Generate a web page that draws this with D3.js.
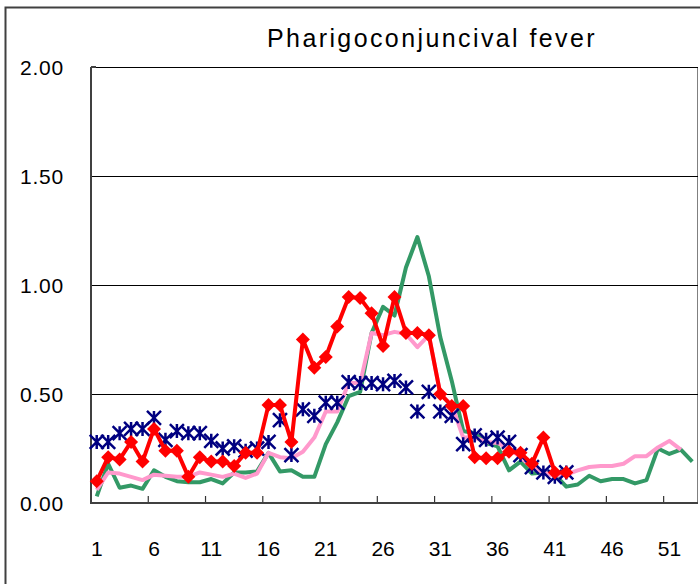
<!DOCTYPE html>
<html>
<head>
<meta charset="utf-8">
<script src="https://cdn.jsdelivr.net/npm/d3@7"></script>
<style>
  body { margin: 0; background: #fff; }
  text { font-family: "Liberation Sans", Arial, sans-serif; fill: #000; }
</style>
</head>
<body>
<div id="chart"></div>
<script>
// Weekly values
const weeks = [1, 2, 3, 4, 5, 6, 7, 8, 9, 10, 11, 12, 13, 14, 15, 16, 17, 18, 19, 20,
  21, 22, 23, 24, 25, 26, 27, 28, 29, 30, 31, 32, 33, 34, 35, 36, 37, 38, 39, 40,
  41, 42, 43, 44, 45, 46, 47, 48, 49, 50, 51, 52, 53];

const greenValues = [0.03, 0.18, 0.07, 0.08, 0.065, 0.15, 0.12, 0.10, 0.095, 0.095,
  0.11, 0.09, 0.14, 0.14, 0.145, 0.23, 0.145, 0.15, 0.12, 0.12,
  0.27, 0.37, 0.49, 0.51, 0.78, 0.90, 0.86, 1.08, 1.22, 1.04,
  0.76, 0.56, 0.33, 0.32, 0.275, 0.26, 0.15, 0.19, 0.135, 0.14,
  0.13, 0.075, 0.085, 0.125, 0.10, 0.11, 0.11, 0.09, 0.105, 0.25,
  0.225, 0.245, 0.19];

const pinkValues = [0.06, 0.14, 0.135, 0.12, 0.105, 0.13, 0.125, 0.12, 0.12, 0.14,
  0.13, 0.12, 0.135, 0.115, 0.135, 0.23, 0.21, 0.205, 0.235, 0.30,
  0.42, 0.42, 0.55, 0.55, 0.78, 0.77, 0.785, 0.775, 0.715, 0.77,
  0.50, 0.45, 0.30, 0.30, 0.28, 0.275, 0.25, 0.21, 0.165, 0.14,
  0.125, 0.13, 0.15, 0.165, 0.17, 0.17, 0.18, 0.215, 0.215, 0.255,
  0.285, 0.245];

const redValues = [0.10, 0.21, 0.20, 0.28, 0.19, 0.34, 0.24, 0.24, 0.12, 0.21,
  0.19, 0.19, 0.17, 0.23, 0.23, 0.45, 0.45, 0.28, 0.75, 0.62,
  0.67, 0.81, 0.945, 0.94, 0.87, 0.72, 0.945, 0.78, 0.78, 0.77,
  0.50, 0.445, 0.445, 0.21, 0.205, 0.205, 0.235, 0.23, 0.18, 0.30,
  0.14, 0.14];

const navyValues = [0.28, 0.28, 0.32, 0.34, 0.34, 0.39, 0.29, 0.33, 0.32, 0.32,
  0.285, 0.25, 0.26, 0.24, 0.25, 0.28, 0.38, 0.22, 0.43, 0.40,
  0.46, 0.46, 0.555, 0.55, 0.55, 0.545, 0.56, 0.53, 0.42, 0.51,
  0.42, 0.40, 0.27, 0.31, 0.29, 0.30, 0.28, 0.22, 0.165, 0.14,
  0.12, 0.14];

const yTicks = [0, 0.5, 1, 1.5, 2];
const xLabels = [1, 6, 11, 16, 21, 26, 31, 36, 41, 46, 51];

// Chart size
const svgWidth = 700, svgHeight = 584;
const plot = { left: 91, right: 698, top: 67, bottom: 503 };

const svg = d3.select("#chart")
  .append("svg")
  .attr("width", svgWidth)
  .attr("height", svgHeight);

// Outer chart border (runs off the picture on the right and bottom)
svg.append("rect")
  .attr("x", 5.5)
  .attr("y", 7.5)
  .attr("width", 800)
  .attr("height", 800)
  .attr("fill", "none")
  .attr("stroke", "#404040")
  .attr("stroke-width", 2);

// Scales
const x = d3.scaleBand()
  .domain(weeks)
  .range([plot.left, plot.right])
  .padding(0);

const y = d3.scaleLinear()
  .domain([0, 2])
  .range([plot.bottom, plot.top]);

const cx = w => x(w) + x.bandwidth() / 2;

// Plot frame on the right
svg.append("line")
  .attr("x1", plot.right - 0.5).attr("x2", plot.right - 0.5)
  .attr("y1", plot.top).attr("y2", plot.bottom)
  .attr("stroke", "#808080");

// Gridlines
svg.selectAll("line.grid")
  .data(yTicks.filter(d => d > 0))
  .join("line")
  .attr("class", "grid")
  .attr("x1", plot.left)
  .attr("x2", plot.right)
  .attr("y1", d => Math.round(y(d)) + 0.5)
  .attr("y2", d => Math.round(y(d)) + 0.5)
  .attr("stroke", "#000")
  .attr("stroke-width", 1.2);

// Y axis labels
svg.selectAll("text.ylab")
  .data(yTicks)
  .join("text")
  .attr("class", "ylab")
  .attr("x", 64)
  .attr("y", d => y(d))
  .attr("dy", "0.36em")
  .attr("text-anchor", "end")
  .attr("font-size", 21)
  .attr("letter-spacing", 0.8)
  .text(d => d3.format(".2f")(d));

// X axis labels under category centres
svg.append("g")
  .attr("transform", `translate(0,${plot.bottom + 45})`)
  .call(d3.axisBottom(x).tickValues(xLabels).tickSize(0).tickPadding(0))
  .call(g => g.select(".domain").remove())
  .call(g => g.selectAll("text")
    .attr("font-size", 21)
    .attr("font-family", "Liberation Sans, Arial, sans-serif")
    .attr("dy", "0.36em")
    .attr("y", 0));

// X tick marks between categories, pointing up
svg.selectAll("line.xtick")
  .data(xLabels.slice(1))
  .join("line")
  .attr("class", "xtick")
  .attr("x1", d => x(d))
  .attr("x2", d => x(d))
  .attr("y1", plot.bottom)
  .attr("y2", plot.bottom - 7)
  .attr("stroke", "#333")
  .attr("stroke-width", 1.2);

// Axis lines
svg.append("line")
  .attr("x1", plot.left).attr("x2", plot.left)
  .attr("y1", plot.top).attr("y2", plot.bottom + 1)
  .attr("stroke", "#404040")
  .attr("stroke-width", 2);

svg.append("line")
  .attr("x1", plot.left - 1).attr("x2", plot.right)
  .attr("y1", plot.bottom).attr("y2", plot.bottom)
  .attr("stroke", "#404040")
  .attr("stroke-width", 2);

svg.append("line")
  .attr("x1", plot.left).attr("x2", plot.left + 5)
  .attr("y1", plot.top).attr("y2", plot.top)
  .attr("stroke", "#404040")
  .attr("stroke-width", 2);

// Title
svg.append("text")
  .attr("x", 432)
  .attr("y", 38)
  .attr("dy", "0.36em")
  .attr("text-anchor", "middle")
  .attr("font-size", 25)
  .attr("letter-spacing", 2.4)
  .text("Pharigoconjuncival fever");

// Line generator
const line = d3.line()
  .x((d, i) => cx(weeks[i]))
  .y(d => y(d));

svg.append("path")
  .datum(greenValues)
  .attr("fill", "none")
  .attr("stroke", "#339966")
  .attr("stroke-width", 4)
  .attr("stroke-linejoin", "round")
  .attr("d", line);

svg.append("path")
  .datum(pinkValues)
  .attr("fill", "none")
  .attr("stroke", "#FF99CC")
  .attr("stroke-width", 4)
  .attr("stroke-linejoin", "round")
  .attr("d", line);

// Navy star markers (no line)
const starSize = 7;
svg.selectAll("path.star")
  .data(navyValues)
  .join("path")
  .attr("class", "star")
  .attr("transform", (d, i) => `translate(${cx(weeks[i])},${y(d)})`)
  .attr("d", `M${-starSize},${-starSize}L${starSize},${starSize}M${-starSize},${starSize}L${starSize},${-starSize}M0,${-starSize}L0,${starSize}`)
  .attr("fill", "none")
  .attr("stroke", "#000080")
  .attr("stroke-width", 2.5);

// Red line with diamonds
svg.append("path")
  .datum(redValues)
  .attr("fill", "none")
  .attr("stroke", "#FF0000")
  .attr("stroke-width", 4)
  .attr("stroke-linejoin", "round")
  .attr("d", line);

svg.selectAll("path.diamond")
  .data(redValues)
  .join("path")
  .attr("class", "diamond")
  .attr("transform", (d, i) => `translate(${cx(weeks[i])},${y(d)})`)
  .attr("d", d3.symbol().type(d3.symbolDiamond2).size(125))
  .attr("fill", "#FF0000");
</script>
</body>
</html>
